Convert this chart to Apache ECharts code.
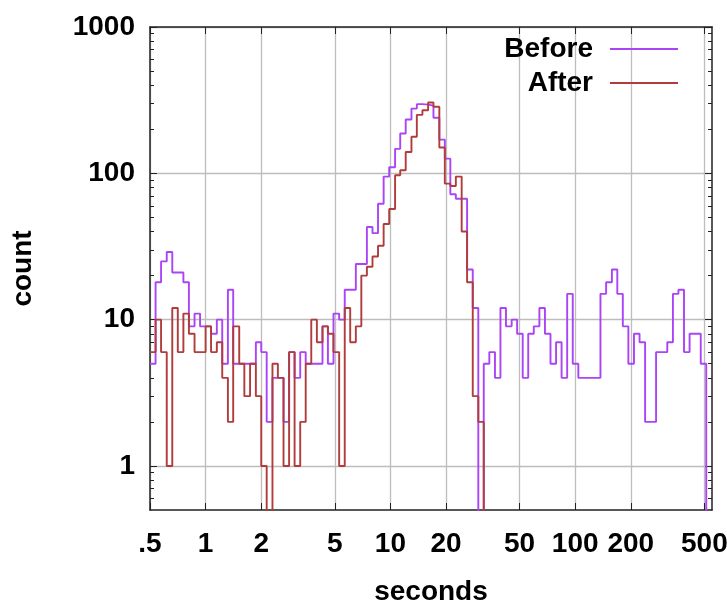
<!DOCTYPE html>
<html>
<head>
<meta charset="utf-8">
<script src="https://cdn.jsdelivr.net/npm/echarts@6/dist/echarts.min.js"></script>
<style>
  html, body { margin: 0; padding: 0; background: #fff; }
  #main { width: 727px; height: 603px; }
</style>
</head>
<body>
<div id="main"></div>
<script>
// bin edges in seconds, 10 bins per doubling, last one closes the histogram
const binEdges = [
  0.5, 0.536, 0.574, 0.616, 0.66, 0.707, 0.758, 0.812, 0.871, 0.933,
  1, 1.07, 1.15, 1.23, 1.32, 1.41, 1.52, 1.62, 1.74, 1.87,
  2, 2.14, 2.3, 2.46, 2.64, 2.83, 3.03, 3.25, 3.48, 3.73,
  4, 4.29, 4.59, 4.92, 5.28, 5.66, 6.06, 6.5, 6.96, 7.46,
  8, 8.57, 9.19, 9.85, 10.6, 11.3, 12.1, 13, 13.9, 14.9,
  16, 17.1, 18.4, 19.7, 21.1, 22.6, 24.3, 26, 27.9, 29.9,
  32, 34.3, 36.8, 39.4, 42.2, 45.3, 48.5, 52, 55.7, 59.7,
  64, 68.6, 73.5, 78.8, 84.4, 90.5, 97, 104, 111, 119,
  128, 137, 147, 158, 169, 181, 194, 208, 223, 239,
  256, 274, 294, 315, 338, 362, 388, 416, 446, 478,
  512
];

const before = [
  5, 18, 25, 29, 21, 21, 18, 9, 11, 9,
  9, 8, 10, 5, 16, 5, 5, 5, 5, 7,
  6, 2, 4, 4, 2, 6, 4, 6, 5, 5,
  5, 9, 5, 11, 10, 16, 16, 24, 24, 43,
  39, 62, 95, 110, 147, 187, 233, 277, 297, 295,
  290, 240, 170, 126, 72, 67, 67, 22, 12, 0,
  5, 6, 4, 12, 9, 10, 8, 4, 8, 9,
  12, 8, 5, 7, 4, 15, 5, 4, 4, 4,
  4, 15, 18, 22, 15, 9, 5, 8, 7, 2,
  2, 6, 6, 7, 15, 16, 6, 8, 8, 5
];

const after = [
  6, 10, 6, 1, 12, 6, 11, 8, 6, 6,
  9, 6, 7, 4, 2, 9, 5, 3, 5, 3,
  1, 0, 5, 4, 1, 6, 1, 2, 5, 10,
  7, 9, 8, 6, 1, 12, 7, 9, 20, 23,
  27, 32, 45, 57, 97, 105, 140, 178, 251, 270,
  305, 285, 150, 85, 82, 95, 40, 18, 3, 2,
  0, 0, 0, 0, 0, 0, 0, 0, 0, 0,
  0, 0, 0, 0, 0, 0, 0, 0, 0, 0,
  0, 0, 0, 0, 0, 0, 0, 0, 0, 0,
  0, 0, 0, 0, 0, 0, 0, 0, 0, 0
];

const xTicks = [0.5, 1, 2, 5, 10, 20, 50, 100, 200, 500];
const xTickLabels = ['.5', '1', '2', '5', '10', '20', '50', '100', '200', '500'];
const yTicks = [1, 10, 100, 1000];
const yTickLabels = ['1', '10', '100', '1000'];
const yMinorTicks = [
  0.6, 0.7, 0.8, 0.9,
  2, 3, 4, 5, 6, 7, 8, 9,
  20, 30, 40, 50, 60, 70, 80, 90,
  200, 300, 400, 500, 600, 700, 800, 900
];

const FONT = "'Liberation Sans', Arial, sans-serif";
const X_MIN = 0.5, X_MAX = 550, Y_MIN = 0.5, Y_MAX = 1000;

// step points: left edge of each bin, zero counts fall below the axis
function steps(counts) {
  const pts = counts.map((c, i) => [binEdges[i], c > 0 ? c : 0.01]);
  pts.push([binEdges[counts.length], 0.01]);
  return pts;
}

function pick(ticks, labels) {
  return v => {
    const i = ticks.findIndex(t => Math.abs(t - v) < t * 1e-6);
    return i >= 0 ? labels[i] : '';
  };
}

const frameLine = { show: true, lineStyle: { color: '#222', width: 1.5 } };
const labelFont = { fontFamily: FONT, fontWeight: 'bold', fontSize: 28, color: '#000' };

const myChart = echarts.init(document.getElementById('main'));
const option = {
  backgroundColor: '#fff',
  animation: false,
  grid: { left: 150, right: 15, top: 27, bottom: 93, outerBoundsMode: 'none' },
  legend: {
    data: ['Before', 'After'],
    orient: 'vertical',
    right: 44,
    top: 29,
    align: 'right',
    icon: 'rect',
    itemWidth: 68,
    itemHeight: 2,
    itemGap: 4,
    textStyle: Object.assign({ lineHeight: 30, padding: [0, 12, 0, 0] }, labelFont)
  },
  xAxis: [
    {
      type: 'log', min: X_MIN, max: X_MAX, position: 'bottom',
      name: 'seconds', nameLocation: 'middle', nameGap: 68,
      nameTextStyle: labelFont,
      axisLine: frameLine,
      axisTick: { show: true, inside: true, length: 7, customValues: xTicks, lineStyle: { color: '#222' } },
      axisLabel: Object.assign({ customValues: xTicks, formatter: pick(xTicks, xTickLabels), margin: 20 }, labelFont),
      splitLine: { show: true, lineStyle: { color: '#bdbdbd', width: 1.3 } }
    },
    {
      type: 'log', min: X_MIN, max: X_MAX, position: 'top',
      axisLine: frameLine,
      axisTick: { show: true, inside: true, length: 7, customValues: xTicks, lineStyle: { color: '#222' } },
      axisLabel: { show: false },
      splitLine: { show: false }
    }
  ],
  yAxis: [
    {
      type: 'log', min: Y_MIN, max: Y_MAX, position: 'left',
      name: 'count', nameLocation: 'middle', nameGap: 113,
      nameTextStyle: labelFont,
      axisLine: frameLine,
      axisTick: { show: true, inside: true, length: 7, customValues: yTicks, lineStyle: { color: '#222' } },
      axisLabel: Object.assign({ customValues: yTicks, formatter: pick(yTicks, yTickLabels), margin: 15 }, labelFont),
      splitLine: { show: true, lineStyle: { color: '#bdbdbd', width: 1.3 } }
    },
    {
      type: 'log', min: Y_MIN, max: Y_MAX, position: 'left',
      axisLine: { show: false },
      axisTick: { show: true, inside: true, length: 4, customValues: yMinorTicks, lineStyle: { color: '#222' } },
      axisLabel: { show: false },
      splitLine: { show: false }
    },
    {
      type: 'log', min: Y_MIN, max: Y_MAX, position: 'right',
      axisLine: frameLine,
      axisTick: { show: true, inside: true, length: 7, customValues: yTicks, lineStyle: { color: '#222' } },
      axisLabel: { show: false },
      splitLine: { show: false }
    },
    {
      type: 'log', min: Y_MIN, max: Y_MAX, position: 'right',
      axisLine: { show: false },
      axisTick: { show: true, inside: true, length: 4, customValues: yMinorTicks, lineStyle: { color: '#222' } },
      axisLabel: { show: false },
      splitLine: { show: false }
    }
  ],
  series: [
    {
      name: 'Before',
      type: 'line',
      step: 'end',
      data: steps(before),
      showSymbol: false,
      clip: true,
      itemStyle: { color: '#aa44f6' },
      lineStyle: { color: '#aa44f6', width: 1.9 }
    },
    {
      name: 'After',
      type: 'line',
      step: 'end',
      data: steps(after),
      showSymbol: false,
      clip: true,
      itemStyle: { color: '#b03c3c' },
      lineStyle: { color: '#b03c3c', width: 1.9 }
    }
  ]
};

option && myChart.setOption(option);
</script>
</body>
</html>
